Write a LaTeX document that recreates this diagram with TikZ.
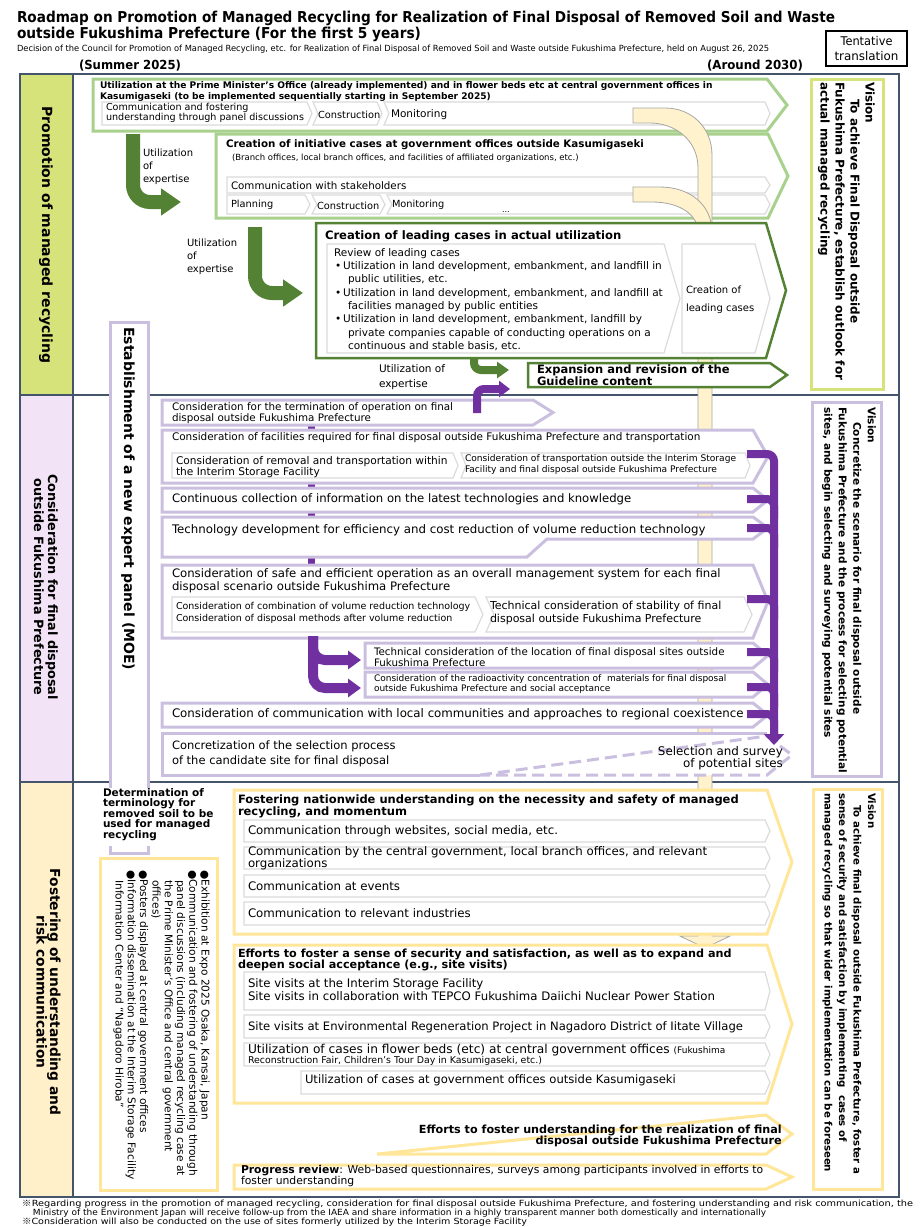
\documentclass[tikz,border=0pt]{standalone}
\usepackage{fontspec}
\usepackage{graphicx}
\setmainfont{DejaVu Sans}
\newfontfamily\dvfont{DejaVu Sans}
\newfontfamily\cjkfont{Noto Sans CJK JP}
\usetikzlibrary{arrows.meta}
\definecolor{frameC}{HTML}{44546A}
\definecolor{secA}{HTML}{D6E27A}
\definecolor{secB}{HTML}{F2E4F6}
\definecolor{secC}{HTML}{FFF0C9}
\definecolor{lgreen}{HTML}{A9D18E}
\definecolor{dgreen}{HTML}{548235}
\definecolor{lav}{HTML}{CBBFE0}
\definecolor{purp}{HTML}{7030A0}
\definecolor{beige}{HTML}{FFE699}
\definecolor{barC}{HTML}{FFF2CC}
\newcommand\fs[2]{\fontsize{#1}{#2}\selectfont}
\newcommand\chv[6]{\draw[#1] (#2,#3) -- ({#4-#6},#3) -- (#4,{(#3+#5)/2}) -- ({#4-#6},#5) -- (#2,#5) -- cycle;}
\newcommand\chvn[6]{\draw[#1] (#2,#3) -- ({#4-#6},#3) -- (#4,{(#3+#5)/2}) -- ({#4-#6},#5) -- (#2,#5) -- ({#2+#6},{(#3+#5)/2}) -- cycle;}
\newcommand\fitw[2]{\resizebox{#1}{\height}{#2}}
\begin{document}
\begin{tikzpicture}[x=1pt,y=-1pt,
 txt/.style={inner sep=0pt,outer sep=0pt,anchor=west,align=left},
 big/.style={fill=white,line width=3pt,line join=miter},
 inner/.style={fill=white,draw=black!14,line width=1.2pt,line join=miter},
 garrow/.style={draw=dgreen,line width=14pt,rounded corners=17pt,-{Triangle[width=26pt,length=20pt]}},
 pbr/.style={draw=purp,line width=8pt,rounded corners=7pt},
 vis/.style={inner sep=0pt,anchor=north west,rotate=-90,align=left},
 lab/.style={inner sep=0pt,rotate=-90,align=center},
 barst/.style={fill=barC,draw=black!35,line width=0.8pt}
]
\fill[white] (0,0) rectangle (920,1227);
\useasboundingbox (0,0) rectangle (920,1227);

% ---------- header
\node[txt,anchor=base west] (ttl1) at (17,22) {\fs{15}{18}\bfseries\fitw{818pt}{Roadmap on Promotion of Managed Recycling for Realization of Final Disposal of Removed Soil and Waste}};
\node[txt,anchor=base west] (ttl2) at (17,38) {\fs{15}{18}\bfseries\fitw{404pt}{outside Fukushima Prefecture (For the first 5 years)}};
\node[txt,anchor=base west] (subt) at (17,51) {\fs{8.5}{10}\fitw{752pt}{Decision of the Council for Promotion of Managed Recycling, etc. for Realization of Final Disposal of Removed Soil and Waste outside Fukushima Prefecture, held on August 26, 2025}};
\draw[line width=1.2pt] (826,31) rectangle (907,66);
\node[align=center,inner sep=0pt,font=\fs{12}{14.5}] (tent) at (866.5,48.5) {\fitw{52pt}{Tentative}\\\fitw{64pt}{translation}};
\node[txt,anchor=base west] (sum) at (79,69) {\fs{12.5}{15}\bfseries\fitw{102pt}{(Summer 2025)}};
\node[txt,anchor=base west] (aro) at (707,69) {\fs{12.5}{15}\bfseries\fitw{96pt}{(Around 2030)}};

% ---------- frame
\fill[secA] (20,74) rectangle (73,395);
\fill[secB] (20,395) rectangle (73,782);
\fill[secC] (20,782) rectangle (73,1197);
\draw[draw=frameC,line width=1.3pt] (20,74) rectangle (899,1197) (73,74) -- (73,1197) (20,395) -- (899,395) (20,782) -- (899,782);
\node[lab,font=\fs{14}{15}\bfseries] (lab1) at (46,235) {Promotion of managed recycling};
\node[lab,font=\fs{12.8}{14}\bfseries] (lab2) at (46,587) {Consideration for final disposal\\outside Fukushima Prefecture};
\node[lab,font=\fs{13.8}{13.5}\bfseries] (lab3) at (48.5,992) {Fostering of understanding and\\risk communication};

% ---------- section 1
\chv{big,draw=lgreen}{93}{79}{787}{131}{20}
\node[txt,font=\fs{9.1}{10.5}\bfseries] (aT) at (100,91.5) {Utilization at the Prime Minister’s Office (already implemented) and in flower beds etc at central government offices in\\Kasumigaseki (to be implemented sequentially starting in September 2025)};
\chv{inner}{102}{102}{312}{125}{5}
\chvn{inner}{313}{102}{382}{125}{5}
\chvn{inner}{384}{102}{770}{125}{5}
\node[txt,font=\fs{9.6}{10}] (a1) at (106,113) {Communication and fostering\\understanding through panel discussions};
\node[txt,font=\fs{9.8}{10}] (a2) at (318,115) {Construction};
\node[txt,font=\fs{10.5}{10}] (a3) at (391,115) {Monitoring};

\chv{big,draw=lgreen}{216}{134}{788}{218}{20}
\node[txt,font=\fs{10.3}{12}\bfseries] (bT) at (226,145) {Creation of initiative cases at government offices outside Kasumigaseki};
\node[txt,font=\fs{8.5}{10}] (bS) at (232,158) {(Branch offices, local branch offices, and facilities of affiliated organizations, etc.)};
\chv{inner}{227}{177}{770}{193}{5}
\chv{inner}{227}{195}{310}{214}{5}
\chvn{inner}{312}{195}{385}{214}{5}
\chvn{inner}{387}{195}{770}{214}{5}
\node[txt,font=\fs{10.3}{10}] (b1) at (231,185.5) {Communication with stakeholders};
\node[txt,font=\fs{9.8}{10}] (b2) at (231,205) {Planning};
\node[txt,font=\fs{9.8}{10}] (b3) at (317,206) {Construction};
\node[txt,font=\fs{9.8}{10}] (b4) at (392,205) {Monitoring};
\node[txt,font=\fs{8}{9}] (b5) at (502,212) {...};

% beige bar (behind later boxes)
\draw[barst] (633,108) -- (665,108) .. controls (692,108) and (712,128) .. (712,155) -- (712,936) -- (730,936) -- (705,948) -- (680,936) -- (698,936) -- (698,168) .. controls (698,140) and (675,123) .. (650,123) -- (633,123) -- cycle;
\draw[barst] (633,187) -- (660,187) .. controls (690,187) and (712,205) .. (712,232) -- (698,232) .. controls (698,215) and (680,202) .. (652,202) -- (633,202) -- cycle;

% green arrows
\coordinate (g1a) at (133,134); \coordinate (g1b) at (133,202); \coordinate (g1c) at (181,202);
\draw[garrow] (g1a) -- (g1b) -- (g1c);
\node[txt,font=\fs{10}{13}] (g1t) at (143,167) {Utilization\\of\\expertise};
\coordinate (g2a) at (255,227); \coordinate (g2b) at (255,293); \coordinate (g2c) at (303,293);
\draw[garrow] (g2a) -- (g2b) -- (g2c);
\node[txt,font=\fs{10}{13}] (g2t) at (187,257) {Utilization\\of\\expertise};

\chv{big,draw=dgreen,line width=2.5pt}{316}{223}{786}{358}{20}
\node[txt,font=\fs{11.6}{13}\bfseries] (cT) at (325,236) {Creation of leading cases in actual utilization};
\chv{inner}{327}{244}{680}{353}{16}
\chv{inner}{682}{244}{770}{353}{15}
\node[txt,font=\fs{10.5}{13.3}] (cL) at (334,299.5) {Review of leading cases\\
\hspace*{1pt}•\hspace*{2pt}Utilization in land development, embankment, and landfill in\\
\hspace*{14pt}public utilities, etc.\\
\hspace*{1pt}•\hspace*{2pt}Utilization in land development, embankment, and landfill at\\
\hspace*{14pt}facilities managed by public entities\\
\hspace*{1pt}•\hspace*{2pt}Utilization in land development, embankment, landfill by\\
\hspace*{14pt}private companies capable of conducting operations on a\\
\hspace*{14pt}continuous and stable basis, etc.};
\node[txt,font=\fs{10}{18}] (cR) at (686,300) {Creation of\\leading cases};

\chv{big,draw=dgreen,line width=2.5pt}{528}{363}{787}{387}{17}
\node[txt,font=\fs{11.5}{10}\bfseries] (dT) at (537,375) {Expansion and revision of the\\Guideline content};
\coordinate (g3a) at (474,358); \coordinate (g3b) at (474,370); \coordinate (g3c) at (509,370);
\draw[draw=dgreen,line width=8pt,rounded corners=7pt,-{Triangle[width=16pt,length=12pt]}] (g3a) -- (g3b) -- (g3c);
\node[txt,font=\fs{10.5}{15}] (g3t) at (379,377.5) {Utilization of\\expertise};

\draw[draw=secA,line width=3pt,fill=white] (811,79) rectangle (883,389);
\node[vis,font=\fs{12}{15}\bfseries] (v1) at (875,82) {Vision\\\hspace*{17pt}To achieve Final Disposal outside\\Fukushima Prefecture, establish outlook for\\actual managed recycling};

% ---------- section 2
\fill[purp] (308,424) rectangle (315,566);
\chv{big,draw=lav}{162}{400}{553}{425}{20}
\node[txt,font=\fs{10.35}{10}] (e1) at (172,413) {Consideration for the termination of operation on final\\disposal outside Fukushima Prefecture};
\chv{big,draw=lav}{162}{430}{768}{483}{15}
\node[txt,font=\fs{10.45}{11}] (e2) at (172,438) {Consideration of facilities required for final disposal outside Fukushima Prefecture and transportation};
\chv{inner}{172}{453}{458}{478}{5}
\chvn{inner}{461}{453}{750}{478}{5}
\node[txt,font=\fs{10.6}{11}] (e2a) at (176,467.5) {Consideration of removal and transportation within\\the Interim Storage Facility};
\node[txt,font=\fs{9.1}{11}] (e2b) at (465,464.5) {Consideration of transportation outside the Interim Storage\\Facility and final disposal outside Fukushima Prefecture};
\chv{big,draw=lav}{162}{488}{768}{512}{15}
\node[txt,font=\fs{11.65}{12}] (e3) at (172,499) {Continuous collection of information on the latest technologies and knowledge};
\draw[big,draw=lav] (162,517) -- (753,517) -- (768,528) -- (753,539) -- (547,539) -- (527,557) -- (162,557) -- cycle;
\node[txt,font=\fs{11.8}{12}] (e4) at (172,530) {Technology development for efficiency and cost reduction of volume reduction technology};
\chv{big,draw=lav}{162}{565}{768}{638}{15}
\node[txt,font=\fs{11.7}{13}] (e5) at (172,580.5) {Consideration of safe and efficient operation as an overall management system for each final\\disposal scenario outside Fukushima Prefecture};
\chv{inner}{172}{597}{483}{632}{8}
\chvn{inner}{486}{597}{752}{632}{8}
\node[txt,font=\fs{9.5}{12}] (e5a) at (176,613) {Consideration of combination of volume reduction technology\\Consideration of disposal methods after volume reduction};
\node[txt,font=\fs{11}{13}] (e5b) at (490,612.5) {Technical consideration of stability of final\\disposal outside Fukushima Prefecture};
\chv{big,draw=lav}{365}{643}{768}{668}{15}
\node[txt,font=\fs{10.3}{11}] (e6) at (374,657.5) {Technical consideration of the location of final disposal sites outside\\Fukushima Prefecture};
\chv{big,draw=lav}{365}{672}{768}{697}{15}
\node[txt,font=\fs{9}{9.5}] (e7) at (374,684) {Consideration of the radioactivity concentration of\ \ materials for final disposal\\outside Fukushima Prefecture and social acceptance};
\chv{big,draw=lav}{162}{703}{768}{727}{15}
\node[txt,font=\fs{11.8}{12}] (e8) at (172,714) {Consideration of communication with local communities and approaches to regional coexistence};
\fill[white] (162,733) rectangle (767,775);
\draw[lav,line width=3pt] (480,775) -- (162,775) -- (162,733) -- (767,733);
\draw[lav,line width=3pt,dash pattern=on 12pt off 6pt] (480,775) -- (767,736) -- (792,755) -- (767,775) -- cycle;
\node[txt,font=\fs{11.5}{15}] (e9) at (172,753.5) {Concretization of the selection process\\of the candidate site for final disposal};
\node[inner sep=0pt,anchor=east,align=right,font=\fs{11.9}{12}] (sel) at (783,758) {Selection and survey\\of potential sites};

% purple arrows
\coordinate (pu1) at (477,413); \coordinate (pu2) at (477,389); \coordinate (pu3) at (510,389);
\draw[pbr,-{Triangle[width=16pt,length=11pt]}] (pu1) -- (pu2) -- (pu3);
\coordinate (p5a) at (313,636); \coordinate (p5b) at (313,688); \coordinate (p5c) at (361,688);
\coordinate (p5d) at (313,660); \coordinate (p5e) at (361,660);
\draw[draw=purp,line width=10pt,rounded corners=12pt,-{Triangle[width=18pt,length=13pt]}] (p5a) -- (p5b) -- (p5c);
\draw[draw=purp,line width=10pt,rounded corners=12pt,-{Triangle[width=18pt,length=13pt]}] (p5a) -- (p5d) -- (p5e);
\coordinate (br0) at (747,454); \coordinate (br1) at (774,454); \coordinate (br2) at (774,745);
\draw[pbr,-{Triangle[width=20pt,length=11pt]}] (br0) -- (br1) -- (br2);
\foreach \yy in {499,528,599,652,687,714}{
  \draw[pbr] (747,\yy) -- (774,\yy) -- (774,{\yy+20});
}

\draw[draw=lav,line width=3pt,fill=white] (812,402) rectangle (881,776);
\node[vis,font=\fs{10.55}{14.5}\bfseries] (v2) at (876,407) {Vision\\\hspace*{15pt}Concretize the scenario for final disposal outside\\Fukushima Prefecture and the process for selecting potential\\sites, and begin selecting and surveying potential sites};

% ---------- expert panel
\draw[draw=lav,line width=3pt,fill=white] (110,322) rectangle (148,853);
\node[inner sep=0pt,anchor=west,rotate=-90,font=\fs{14}{15}\bfseries] (exp) at (128,327) {Establishment of a new expert panel (MOE)};
\fill[white] (105,788) rectangle (153,846);
\node[txt,font=\fs{10.5}{9.8}\bfseries] (det) at (103,815) {Determination of\\terminology for\\removed soil to be\\used for managed\\recycling};

% ---------- section 3
\draw[draw=beige,line width=3pt,fill=white] (100,858) rectangle (217,1190);
\node[vis,font=\fs{10.6}{12.3}] (lst) at (210,870) {●Exhibition at Expo 2025 Osaka, Kansai, Japan\\
●Communication and fostering of understanding through\\
\hspace*{10pt}panel discussions (including managed recycling case at\\
\hspace*{10pt}the Prime Minister’s Office and central government\\
\hspace*{10pt}offices)\\
●Posters displayed at central government offices\\
●Information dissemination at the Interim Storage Facility\\
\hspace*{10pt}Information Center and “Nagadoro Hiroba”};

\chv{big,draw=beige}{234}{790}{792}{934}{25}
\node[txt,font=\fs{11.5}{12}\bfseries] (f1T) at (238,806) {Fostering nationwide understanding on the necessity and safety of managed\\recycling, and momentum};
\chv{inner}{244}{820}{770}{842}{5}
\chv{inner}{244}{847}{770}{869}{5}
\chv{inner}{244}{875}{770}{897}{5}
\chv{inner}{244}{902}{770}{925}{5}
\node[txt,font=\fs{11.8}{12}] (f1a) at (248,831) {Communication through websites, social media, etc.};
\node[txt,font=\fs{11.8}{10}] (f1b) at (248,858) {Communication by the central government, local branch offices, and relevant\\organizations};
\node[txt,font=\fs{11.8}{12}] (f1c) at (248,886) {Communication at events};
\node[txt,font=\fs{11.8}{12}] (f1d) at (248,913) {Communication to relevant industries};

\chv{big,draw=beige}{234}{945}{792}{1103}{25}
\node[txt,font=\fs{11.2}{11}\bfseries] (f2T) at (238,960) {Efforts to foster a sense of security and satisfaction, as well as to expand and\\deepen social acceptance (e.g., site visits)};
\chv{inner}{244}{972}{770}{1010}{5}
\chv{inner}{244}{1015}{770}{1038}{5}
\chv{inner}{244}{1043}{770}{1066}{5}
\chv{inner}{301}{1071}{770}{1094}{5}
\node[txt,font=\fs{11.75}{13}] (f2a) at (248,989.5) {Site visits at the Interim Storage Facility\\Site visits in collaboration with TEPCO Fukushima Daiichi Nuclear Power Station};
\node[txt,font=\fs{11.6}{12}] (f2b) at (248,1027) {Site visits at Environmental Regeneration Project in Nagadoro District of Iitate Village};
\node[txt,font=\fs{12.2}{12}] (f2c) at (248,1050) {Utilization of cases in flower beds (etc) at central government offices {\fs{9}{10}(Fukushima}};
\node[txt,font=\fs{9.4}{10}] (f2d) at (248,1061) {Reconstruction Fair, Children’s Tour Day in Kasumigaseki, etc.)};
\node[txt,font=\fs{11.6}{12}] (f2e) at (305,1080) {Utilization of cases at government offices outside Kasumigaseki};

\draw[big,draw=beige] (377,1154) -- (766,1115) -- (792,1134) -- (766,1154) -- cycle;
\node[inner sep=0pt,anchor=east,align=right,font=\fs{11.2}{11}\bfseries] (f3) at (782,1135.5) {Efforts to foster understanding for the realization of final\\disposal outside Fukushima Prefecture};

\chv{big,draw=beige}{234}{1165}{792}{1189}{26}
\node[txt,font=\fs{10.8}{11}] (f4) at (241,1176.5) {\textbf{Progress review}: Web-based questionnaires, surveys among participants involved in efforts to\\foster understanding};

\draw[draw=beige,line width=3pt,fill=white] (813,789) rectangle (882,1189);
\node[vis,font=\fs{10.2}{14.5}\bfseries] (v3) at (876,793) {Vision\\\hspace*{12pt}To achieve final disposal outside Fukushima Prefecture, foster a\\sense of security and satisfaction by implementing\ \ cases of\\managed recycling so that wider implementation can be foreseen};

% ---------- footer
\node[txt,anchor=base west] (ft1) at (22,1206) {\fs{8.5}{9}\fitw{891pt}{{\cjkfont ※}Regarding progress in the promotion of managed recycling, consideration for final disposal outside Fukushima Prefecture, and fostering understanding and risk communication, the}};
\node[txt,anchor=base west] (ft2) at (33,1215) {\fs{8.5}{9}\fitw{733pt}{Ministry of the Environment Japan will receive follow-up from the IAEA and share information in a highly transparent manner both domestically and internationally}};
\node[txt,anchor=base west] (ft3) at (22,1224) {\fs{8.5}{9}\fitw{505pt}{{\cjkfont ※}Consideration will also be conducted on the use of sites formerly utilized by the Interim Storage Facility}};
\end{tikzpicture}
\end{document}
